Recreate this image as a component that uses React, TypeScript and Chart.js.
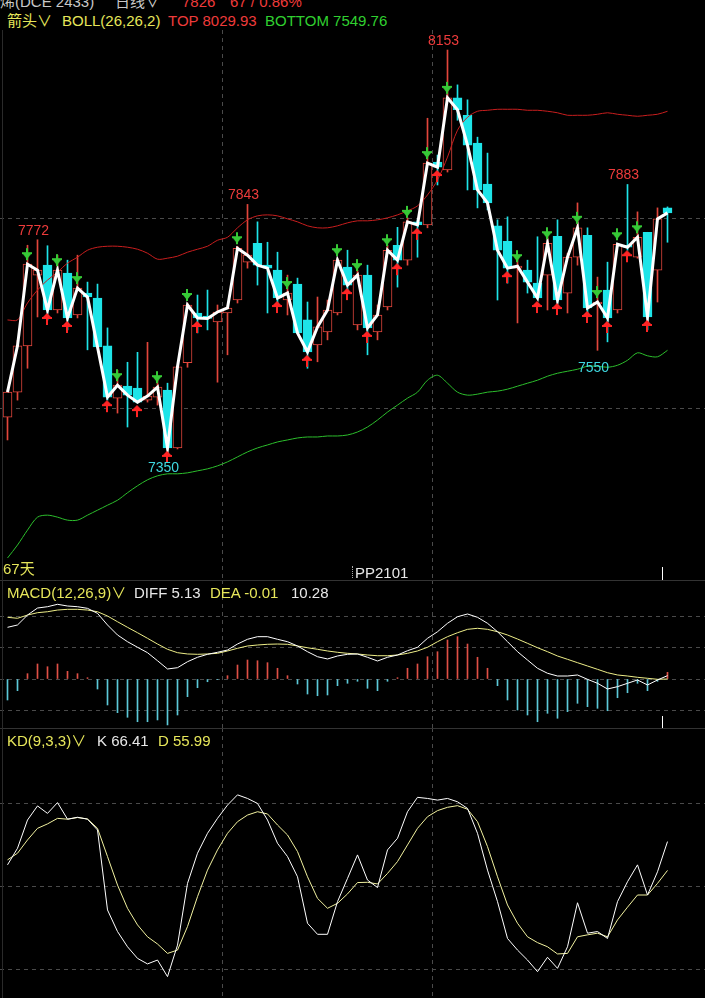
import React, { useEffect, useRef } from 'react';
import { Chart, registerables } from 'chart.js';

Chart.register(...registerables);

// ---------------- data ----------------
const opens = [
  7416, 7466, 7559, 7701, 7721, 7631, 7705, 7621, 7665, 7655,
  7559, 7454, 7478, 7474, 7450, 7456, 7470, 7354, 7525, 7625,
  7619, 7607, 7625, 7651, 7727, 7765, 7721, 7711, 7651, 7683,
  7611, 7561, 7587, 7625, 7717, 7601, 7701, 7587, 7637, 7761,
  7731, 7808, 7802, 7928, 7912, 8057, 8022, 7966, 7884, 7800,
  7769, 7715, 7711, 7685, 7701, 7779, 7665, 7737, 7781, 7643,
  7671, 7631, 7761, 7737, 7787, 7711, 7836,
];
const highs = [
  7470, 7570, 7761, 7772, 7760, 7741, 7731, 7741, 7687, 7683,
  7595, 7510, 7526, 7546, 7566, 7490, 7484, 7520, 7645, 7661,
  7671, 7641, 7640, 7759, 7843, 7808, 7767, 7747, 7701, 7695,
  7647, 7657, 7651, 7735, 7751, 7711, 7721, 7641, 7761, 7797,
  7816, 7812, 8016, 7942, 8153, 8083, 8053, 7978, 7946, 7812,
  7818, 7737, 7731, 7778, 7778, 7812, 7745, 7846, 7796, 7697,
  7727, 7765, 7883, 7828, 7787, 7836, 7838,
];
const lows = [
  7370, 7450, 7514, 7617, 7611, 7625, 7591, 7615, 7551, 7555,
  7450, 7424, 7396, 7444, 7446, 7440, 7350, 7352, 7516, 7585,
  7591, 7486, 7541, 7645, 7715, 7681, 7625, 7641, 7621, 7585,
  7514, 7527, 7571, 7621, 7665, 7591, 7541, 7571, 7631, 7677,
  7721, 7737, 7796, 7882, 7908, 8012, 7872, 7836, 7832, 7651,
  7685, 7605, 7665, 7655, 7631, 7637, 7625, 7721, 7617, 7550,
  7567, 7625, 7751, 7735, 7591, 7647, 7767,
];
const closes = [
  7466, 7559, 7723, 7711, 7631, 7711, 7615, 7675, 7657, 7557,
  7456, 7480, 7460, 7446, 7458, 7476, 7354, 7517, 7641, 7615,
  7614, 7627, 7635, 7755, 7741, 7721, 7715, 7655, 7665, 7585,
  7547, 7597, 7631, 7731, 7681, 7701, 7595, 7621, 7751, 7731,
  7808, 7802, 7926, 7918, 8057, 8033, 7962, 7872, 7846, 7751,
  7715, 7719, 7687, 7655, 7765, 7651, 7737, 7796, 7635, 7647,
  7615, 7763, 7757, 7777, 7617, 7814, 7826,
];
const bollTop = [
  7611, 7611, 7645, 7671, 7691, 7707, 7725, 7737, 7751, 7757,
  7759, 7759, 7757, 7753, 7745, 7733, 7735, 7739, 7747, 7753,
  7759, 7771, 7777, 7796, 7812, 7820, 7822, 7820, 7814, 7808,
  7800, 7796, 7796, 7800, 7806, 7810, 7810, 7812, 7816, 7822,
  7830, 7840, 7862, 7892, 7938, 7992, 8018, 8030, 8032, 8034,
  8034, 8034, 8032, 8032, 8030, 8027, 8022, 8022, 8022, 8024,
  8027, 8024, 8022, 8020, 8022, 8024, 8030,
];
const bollBottom = [
  7133, 7159, 7189, 7215, 7219, 7215, 7209, 7209, 7219, 7229,
  7239, 7249, 7264, 7278, 7290, 7298, 7302, 7302, 7304, 7308,
  7312, 7318, 7326, 7336, 7346, 7354, 7360, 7366, 7370, 7374,
  7376, 7376, 7378, 7378, 7380, 7386, 7396, 7410, 7426, 7440,
  7454, 7466, 7490, 7500, 7484, 7466, 7460, 7462, 7466, 7468,
  7472, 7478, 7484, 7490, 7498, 7504, 7508, 7512, 7518, 7518,
  7516, 7520, 7530, 7545, 7539, 7537, 7550,
];
const peakIdx = [2, 5, 7, 11, 15, 18, 23, 28, 33, 35, 38, 40, 42, 44, 51, 54, 57, 59, 61, 63];
const troughIdx = [4, 6, 10, 13, 16, 19, 27, 30, 34, 36, 39, 41, 43, 50, 53, 55, 58, 60, 62, 64];
const highLabelIdx = [3, 24, 44, 62];
const lowLabelIdx = [16, 59];

const macdDiff = [
  79.5, 83.1, 98.4, 109.2, 111.2, 114.9, 112.3, 111.2, 108.7, 101,
  83.1, 67.7, 57.4, 48.8, 40.5, 28.1, 15.4, 17.4, 26.6, 33.4,
  38, 41.1, 44.6, 53.8, 61.1, 65.1, 65.1, 61.1, 57.4, 50.8,
  42, 34.3, 30.8, 35.4, 38, 38.5, 33.4, 27.7, 33.4, 36.9,
  43.5, 48.8, 62.6, 72.7, 85.7, 95.8, 100, 94.9, 85.7, 72.7,
  57.4, 42, 29.2, 16.5, 8.8, 4.6, 4.6, 6.2, -0.5, -6.6,
  -15.4, -11.8, -6.6, -1.5, -9.2, -1.5, 5.13,
];
const macdDea = [
  94.9, 93.4, 98.4, 102, 103.5, 106.1, 107.2, 107.2, 106.1, 103.5,
  96.9, 88.1, 79.5, 71.2, 62.6, 53.8, 45.7, 40.5, 38.5, 38,
  38.5, 39.5, 43.1, 47.2, 50.8, 52.3, 53.4, 53.8, 53.4, 50.8,
  48.1, 45.7, 43.1, 41.1, 39.5, 38.5, 36.9, 35.8, 35.8, 36.9,
  39.5, 43.1, 48.8, 57.4, 65.1, 71.2, 76.4, 78, 76.4, 72.7,
  67.7, 61.5, 54.9, 48.1, 42, 35.4, 30.3, 25.1, 20, 14.9,
  9.7, 6.2, 4.6, 2.6, 1.1, -0.5, -0.01,
];
const macdHist = [
  -32.3, -18, 8.2, 23.1, 18.9, 23.1, 11.8, 8.2, 2, -15.4,
  -40, -51.8, -58.9, -65.7, -65.7, -63, -70.7, -55.4, -27.2, -13.4,
  -4.2, -1, 5.1, 21.5, 29.2, 28.1, 25.1, 16.5, 5.1, -7.7,
  -23.1, -25.7, -24.6, -10.3, -6.6, -3.5, -14.3, -18, -3.5, 2,
  16.5, 23.1, 34.3, 42, 60, 65.1, 53.8, 33.4, 16.5, -10.3,
  -32.3, -47.7, -55.4, -65.7, -52.8, -60.4, -50.3, -37.4, -42.6, -45.1,
  -48.8, -28.8, -21.1, -6.6, -18, -3.5, 10.28,
];
const kdK = [
  58, 64, 74.2, 79.3, 76.6, 80.5, 74.5, 75.2, 74.5, 70.6,
  41.7, 33.9, 28.4, 24.2, 22.2, 23.6, 17.6, 29, 51.3, 62.2,
  69.4, 74.8, 79.6, 83.3, 82, 80.2, 74.2, 65.8, 61, 53.7,
  36.9, 32.9, 32.9, 44.7, 53.1, 61.6, 52.5, 49.8, 63.4, 67.6,
  77.2, 82.4, 82, 81.4, 82, 80.8, 78.4, 69.4, 56.1, 44.7,
  31.4, 27.2, 23.6, 19.4, 24.6, 20.6, 28.4, 44.3, 33.3, 33.9,
  31.4, 44.7, 51.9, 58, 47.1, 55.5, 66.41,
];
const kdD = [
  59.8, 62.2, 67, 71.2, 72.8, 74.8, 74.5, 75.1, 74.6, 71.2,
  61, 50.7, 42.3, 36.3, 32, 29.4, 26, 27.2, 35.7, 46.5,
  56.1, 63.4, 69.4, 73.6, 76, 77.2, 76.4, 72.4, 68.8, 62.8,
  53.7, 45.9, 42.3, 44.1, 47.5, 51.6, 51.7, 51.1, 54.9, 59.2,
  65.2, 71.2, 75.4, 77.6, 78.8, 79.4, 78.1, 73.6, 64.6, 53.7,
  43.5, 36.9, 32, 29.9, 28.4, 25.8, 26, 32, 32.7, 33.3,
  32, 38.1, 42.7, 47.1, 47.1, 51.3, 55.99,
];

const mainGridPrices = [7814, 7434];
const macdGridValues = [-47.7, 0, 47.7, 95.4];
const kdGridValues = [20, 50, 80];
const vGridIndex = [21.5, 42.5];

// ---------------- styles ----------------
const RED = '#e2463c';
const CYAN = '#1ee4e8';
const BOLL_RED = '#c81e1e';
const BOLL_GREEN = '#2cbe2c';
const GRID = '#4a4a4a';
const YELLOW = '#e6e65a';
const TXT_RED = '#ee3b3b';
const TXT_GREEN = '#30d030';
const WHITE = '#e8e8e8';
const FONT = '"Liberation Sans", Arial, "Noto Sans CJK SC", sans-serif';

const X_MIN = -0.75;
const X_MAX = 69.75;

function xScale(): any {
  return {
    type: 'linear',
    min: X_MIN,
    max: X_MAX,
    offset: false,
    afterBuildTicks: (s: any) => {
      s.ticks = vGridIndex.map((v) => ({ value: v }));
    },
    ticks: { display: false },
    grid: { color: GRID, drawTicks: false, offset: false, lineWidth: 1 },
    border: { display: false, dash: [4, 4] },
  };
}

function yScale(min: number, max: number, gridVals: number[]): any {
  return {
    type: 'linear',
    min,
    max,
    beginAtZero: false,
    afterBuildTicks: (s: any) => {
      s.ticks = gridVals.map((v) => ({ value: v }));
    },
    ticks: { display: false },
    grid: { color: GRID, drawTicks: false, lineWidth: 1 },
    border: { display: false, dash: [4, 4] },
  };
}

function makeGreenArrow() {
  const c = document.createElement('canvas');
  c.width = 11;
  c.height = 36;
  const g = c.getContext('2d')!;
  g.fillStyle = '#36c936';
  g.fillRect(4, 2, 2, 12);
  g.fillRect(0, 6, 10, 2);
  g.beginPath();
  g.moveTo(1, 8);
  g.lineTo(9, 8);
  g.lineTo(5, 13);
  g.closePath();
  g.fill();
  return c;
}

function makeRedArrow() {
  const c = document.createElement('canvas');
  c.width = 11;
  c.height = 36;
  const g = c.getContext('2d')!;
  g.fillStyle = '#ff2424';
  g.beginPath();
  g.moveTo(5, 21);
  g.lineTo(10, 26);
  g.lineTo(0, 26);
  g.closePath();
  g.fill();
  g.fillRect(0, 25, 10, 2);
  g.fillRect(4, 24, 2, 9);
  return c;
}

const baseOptions = (scales: any): any => ({
  responsive: false,
  maintainAspectRatio: false,
  animation: false,
  devicePixelRatio: 1,
  events: [],
  layout: { padding: 0, autoPadding: false },
  plugins: { legend: { display: false }, tooltip: { enabled: false } },
  scales,
});

const T = ({ x, y, c, children }: { x: number; y: number; c: string; children: any }) => (
  <div style={{ position: 'absolute', left: x, top: y, color: c, whiteSpace: 'pre' }}>{children}</div>
);

export default function App() {
  const mainRef = useRef<HTMLCanvasElement>(null);
  const macdRef = useRef<HTMLCanvasElement>(null);
  const kdRef = useRef<HTMLCanvasElement>(null);

  useEffect(() => {
    document.body.style.margin = '0';
    document.body.style.background = '#000';
    const idx = closes.map((_, i) => i);
    const up = (i: number) => closes[i] >= opens[i];

    const labelPlugin = {
      id: 'extremeLabels',
      afterDatasetsDraw(chart: any) {
        const { ctx, scales } = chart;
        const x = scales.x;
        const y = scales.y;
        ctx.save();
        ctx.font = '14px ' + FONT;
        ctx.textAlign = 'center';
        ctx.textBaseline = 'middle';
        ctx.fillStyle = TXT_RED;
        for (const i of highLabelIdx) {
          ctx.fillText(String(highs[i]), x.getPixelForValue(i) - 4, y.getPixelForValue(highs[i]) - 9);
        }
        ctx.fillStyle = '#3fd8e0';
        for (const i of lowLabelIdx) {
          ctx.fillText(String(lows[i]), x.getPixelForValue(i) - 4, y.getPixelForValue(lows[i]) + 18);
        }
        ctx.restore();
      },
    };

    const mainChart = new Chart(mainRef.current!, {
      type: 'bar',
      data: {
        datasets: [
          {
            type: 'bar',
            data: idx.map((i) => ({ x: i, y: [lows[i], highs[i]] })),
            backgroundColor: idx.map((i) => (up(i) ? RED : CYAN)),
            barThickness: 1,
            grouped: false,
            order: 6,
          } as any,
          {
            type: 'bar',
            data: idx.map((i) => ({ x: i, y: [opens[i], closes[i]] })),
            backgroundColor: idx.map((i) => (up(i) ? '#000000' : CYAN)),
            borderColor: idx.map((i) => (up(i) ? RED : CYAN)),
            borderWidth: 1,
            borderSkipped: false,
            barThickness: 9,
            grouped: false,
            order: 5,
          } as any,
          {
            type: 'line',
            data: idx.map((i) => ({ x: i, y: bollTop[i] })),
            borderColor: BOLL_RED,
            borderWidth: 1,
            pointRadius: 0,
            tension: 0.3,
            order: 4,
          } as any,
          {
            type: 'line',
            data: idx.map((i) => ({ x: i, y: bollBottom[i] })),
            borderColor: BOLL_GREEN,
            borderWidth: 1,
            pointRadius: 0,
            tension: 0.3,
            order: 4,
          } as any,
          {
            type: 'line',
            data: idx.map((i) => ({ x: i, y: closes[i] })),
            borderColor: '#ffffff',
            borderWidth: 3,
            pointRadius: 0,
            tension: 0,
            order: 2,
          } as any,
          {
            type: 'line',
            data: peakIdx.map((i) => ({ x: i, y: closes[i] })),
            showLine: false,
            pointStyle: makeGreenArrow(),
            pointRadius: 6,
            order: 1,
          } as any,
          {
            type: 'line',
            data: troughIdx.map((i) => ({ x: i, y: closes[i] })),
            showLine: false,
            pointStyle: makeRedArrow(),
            pointRadius: 6,
            order: 1,
          } as any,
        ],
      },
      options: baseOptions({ x: xScale(), y: yScale(7088.8, 8193.2, mainGridPrices) }),
      plugins: [labelPlugin],
    } as any);

    const macdChart = new Chart(macdRef.current!, {
      type: 'bar',
      data: {
        datasets: [
          {
            type: 'bar',
            data: idx.map((i) => ({ x: i, y: macdHist[i] })),
            backgroundColor: idx.map((i) => (macdHist[i] >= 0 ? '#e05046' : '#5cc8d8')),
            barThickness: 1,
            grouped: false,
            order: 3,
          } as any,
          {
            type: 'line',
            data: idx.map((i) => ({ x: i, y: macdDea[i] })),
            borderColor: '#eeee88',
            borderWidth: 1,
            pointRadius: 0,
            tension: 0,
            order: 2,
          } as any,
          {
            type: 'line',
            data: idx.map((i) => ({ x: i, y: macdDiff[i] })),
            borderColor: '#ffffff',
            borderWidth: 1,
            pointRadius: 0,
            tension: 0,
            order: 1,
          } as any,
        ],
      },
      options: baseOptions({ x: xScale(), y: yScale(-75.38, 152.3, macdGridValues) }),
    } as any);

    const kdChart = new Chart(kdRef.current!, {
      type: 'line',
      data: {
        datasets: [
          {
            data: idx.map((i) => ({ x: i, y: kdD[i] })),
            borderColor: '#f2f2a0',
            borderWidth: 1,
            pointRadius: 0,
            tension: 0,
            order: 2,
          },
          {
            data: idx.map((i) => ({ x: i, y: kdK[i] })),
            borderColor: '#ffffff',
            borderWidth: 1,
            pointRadius: 0,
            tension: 0,
            order: 1,
          },
        ],
      },
      options: baseOptions({ x: xScale(), y: yScale(9.88, 107.46, kdGridValues) }),
    } as any);

    return () => {
      mainChart.destroy();
      macdChart.destroy();
      kdChart.destroy();
    };
  }, []);

  return (
    <div
      style={{
        position: 'fixed',
        left: 0,
        top: 0,
        width: 705,
        height: 998,
        background: '#000',
        overflow: 'hidden',
        fontFamily: FONT,
        fontSize: 15,
        lineHeight: '15px',
      }}
    >
      <canvas ref={mainRef} width={705} height={550} style={{ position: 'absolute', left: 0, top: 30, display: 'block' }} />
      <canvas ref={macdRef} width={705} height={148} style={{ position: 'absolute', left: 0, top: 580, display: 'block' }} />
      <canvas ref={kdRef} width={705} height={270} style={{ position: 'absolute', left: 0, top: 728, display: 'block' }} />

      <div style={{ position: 'absolute', left: 0, top: 580, width: 705, height: 1, background: '#333' }} />
      <div style={{ position: 'absolute', left: 0, top: 728, width: 705, height: 1, background: '#333' }} />
      <div style={{ position: 'absolute', left: 2, top: 30, width: 1, height: 968, background: '#2a2a2a' }} />
      <div style={{ position: 'absolute', left: 662, top: 567, width: 1, height: 13, background: '#ffffff' }} />
      <div style={{ position: 'absolute', left: 662, top: 716, width: 1, height: 12, background: '#ffffff' }} />
      <div style={{ position: 'absolute', left: 352, top: 566, width: 0, height: 12, borderLeft: '1px dotted #aaaaaa' }} />

      <T x={0} y={-6} c="#c8c8c8">烯(DCE 2433)</T>
      <T x={115} y={-6} c="#c8c8c8">日线∨</T>
      <T x={182} y={-6} c={TXT_RED}>7826</T>
      <T x={230} y={-6} c={TXT_RED}>67 / 0.86%</T>

      <T x={7} y={13} c={YELLOW}>箭头∨</T>
      <T x={62} y={13} c={YELLOW}>BOLL(26,26,2)</T>
      <T x={168} y={13} c={TXT_RED}>TOP 8029.93</T>
      <T x={265} y={13} c={TXT_GREEN}>BOTTOM 7549.76</T>

      <T x={3} y={561} c={YELLOW}>67天</T>
      <T x={355} y={565} c={WHITE}>PP2101</T>

      <T x={7} y={585} c={YELLOW}>MACD(12,26,9)∨</T>
      <T x={134} y={585} c={WHITE}>DIFF 5.13</T>
      <T x={210} y={585} c={YELLOW}>DEA -0.01</T>
      <T x={291} y={585} c={WHITE}>10.28</T>

      <T x={7} y={733} c={YELLOW}>KD(9,3,3)∨</T>
      <T x={97} y={733} c={WHITE}>K 66.41</T>
      <T x={158} y={733} c={YELLOW}>D 55.99</T>
    </div>
  );
}
